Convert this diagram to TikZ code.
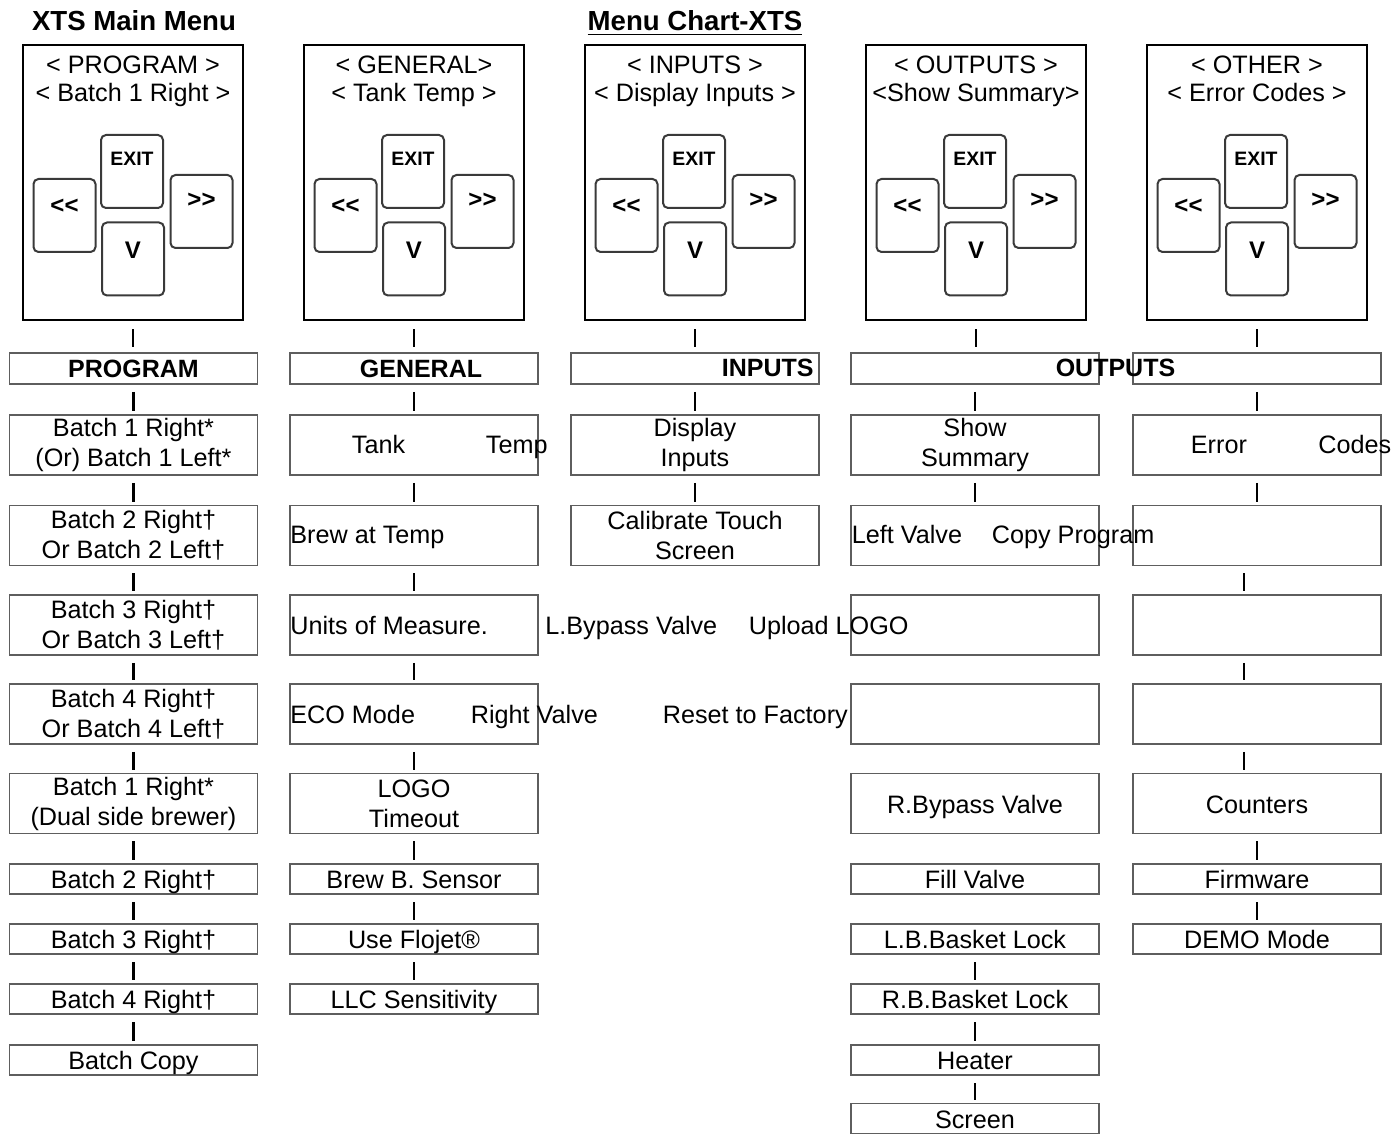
\documentclass[tikz,border=0pt]{standalone}
\usepackage{fontspec}
\setmainfont{Liberation Sans}
\definecolor{boxgray}{HTML}{5E5E5E}
\definecolor{keygray}{HTML}{3A3A3A}

\begin{document}
\begin{tikzpicture}[
  x=0.5pt, y=-0.5pt,
  title/.style={anchor=base, inner sep=0pt, font=\fontsize{13.8}{16}\selectfont\bfseries},
  panel/.style={
    draw=black, line width=1.3pt, minimum width=110pt, minimum height=137.5pt,
    inner sep=0pt
  },
  paneltxt/.style={anchor=north, yshift=-6pt, inner sep=0pt, align=center,
    font=\fontsize{12.6}{14}\selectfont},
  keybox/.style={
    draw=keygray, line width=1pt, rounded corners=2.5pt, minimum width=31pt,
    inner sep=0pt, font=\fontsize{12}{14}\selectfont\bfseries
  },
  rowhead/.style={
    draw=boxgray, line width=0.9pt, minimum width=124pt, minimum height=15.5pt,
    inner sep=0pt, font=\fontsize{12.5}{15}\selectfont\bfseries
  },
  rowtall/.style={
    draw=boxgray, line width=0.9pt, minimum width=124pt, minimum height=30pt,
    inner sep=0pt, align=center, font=\fontsize{12.6}{15}\selectfont
  },
  rowshort/.style={rowtall, minimum height=15pt, text height=12.4pt, text depth=2.7pt},
  oneline/.style={text height=12.7pt, text depth=2.7pt},
  txt/.style={anchor=base west, inner sep=0pt, font=\fontsize{12.6}{15}\selectfont},
  headtxt/.style={inner sep=0pt, font=\fontsize{12.5}{15}\selectfont\bfseries},
  link/.style={line width=1.4pt, shorten <=3.5pt, shorten >=1.5pt},
  toplink/.style={line width=1.4pt, shorten <=4pt, shorten >=2.5pt},
]

\useasboundingbox (0,0) rectangle (1393,1134);

% Titles
\node[title] (main-title) at (134,31) {XTS Main Menu};
\node[title] (chart-title) at (695,31) {\underline{Menu Chart-XTS}};

% =============================================
% Display panels with keys
% =============================================
\foreach \n/\cx/\ta/\tb in {
    pprog/133/{< PROGRAM >}/{< Batch 1 Right >},
    pgen/414/{< GENERAL>}/{< Tank Temp >},
    pinp/695/{< INPUTS >}/{< Display Inputs >},
    pout/976/{< OUTPUTS >}/{<Show Summary>},
    poth/1257/{< OTHER >}/{< Error Codes >}} {
  \node[panel] (\n) at (\cx,182.5) {};
  \node[paneltxt] (\n-txt) at (\n.north) {\ta\\\tb};
  \node[keybox, text height=15.5pt, text depth=21pt,
        font=\fontsize{9.7}{12}\selectfont\bfseries] (\n-exit) at (\cx-1,171.5) {EXIT};
  \node[keybox, text height=17.5pt, text depth=19pt] (\n-left) at (\cx-68.5,215.5) {<\kern0pt<};
  \node[keybox, text height=16.5pt, text depth=20pt] (\n-right) at (\cx+68.5,211.5) {>\kern0pt>};
  \node[keybox, text height=17.8pt, text depth=18.7pt] (\n-down) at (\cx,259) {V};
}

% =============================================
% PROGRAM column
% =============================================
\node[rowhead] (prog-head) at (133.5,368.5) {PROGRAM};
\node[rowtall] (prog1) at (133.5,445) {Batch 1 Right*\\(Or) Batch 1 Left*};
\node[rowtall] (prog2) at (133.5,535.5) {Batch 2 Right†\\Or Batch 2 Left†};
\node[rowtall] (prog3) at (133.5,625) {Batch 3 Right†\\Or Batch 3 Left†};
\node[rowtall] (prog4) at (133.5,714) {Batch 4 Right†\\Or Batch 4 Left†};
\node[rowtall] (prog5) at (133.5,803.5) {Batch 1 Right*\\(Dual side brewer)};
\node[rowshort] (prog6) at (133.5,879) {Batch 2 Right†};
\node[rowshort] (prog7) at (133.5,939) {Batch 3 Right†};
\node[rowshort] (prog8) at (133.5,999) {Batch 4 Right†};
\node[rowshort] (prog9) at (133.5,1060) {Batch Copy};

% =============================================
% GENERAL column
% =============================================
\node[rowhead] (gen-head) at (414,368.5) {\hspace*{7pt}GENERAL};
\node[rowtall] (gen1) at (414,445) {};
\node[rowtall] (gen2) at (414,535.5) {};
\node[rowtall] (gen3) at (414,625) {};
\node[rowtall] (gen4) at (414,714) {};
\node[rowtall] (gen5) at (414,803.5) {LOGO\\Timeout};
\node[rowshort] (gen6) at (414,879) {Brew B. Sensor};
\node[rowshort] (gen7) at (414,939) {Use Flojet®};
\node[rowshort] (gen8) at (414,999) {LLC Sensitivity};

% =============================================
% INPUTS column
% =============================================
\node[rowhead] (inp-head) at (695,368.5) {};
\node[rowtall] (inp1) at (695,445) {Display\\Inputs};
\node[rowtall] (inp2) at (695,535.5) {Calibrate Touch\\Screen};

% =============================================
% OUTPUTS column
% =============================================
\node[rowhead] (out-head) at (975,368.5) {};
\node[rowtall] (out1) at (975,445) {Show\\Summary};
\node[rowtall] (out2) at (975,535.5) {};
\node[rowtall] (out3) at (975,625) {};
\node[rowtall] (out4) at (975,714) {};
\node[rowtall, oneline] (out5) at (975,803.5) {R.Bypass Valve};
\node[rowshort] (out6) at (975,879) {Fill Valve};
\node[rowshort] (out7) at (975,939) {L.B.Basket Lock};
\node[rowshort] (out8) at (975,999) {R.B.Basket Lock};
\node[rowshort] (out9) at (975,1060) {Heater};
\node[rowshort] (out10) at (975,1118.5) {Screen};

% =============================================
% OTHER column
% =============================================
\node[rowhead] (oth-head) at (1257,368.5) {};
\node[rowtall] (oth1) at (1257,445) {};
\node[rowtall] (oth2) at (1257,535.5) {};
\node[rowtall] (oth3) at (1257,625) {};
\node[rowtall] (oth4) at (1257,714) {};
\node[rowtall, oneline] (oth5) at (1257,803.5) {Counters};
\node[rowshort] (oth6) at (1257,879) {Firmware};
\node[rowshort] (oth7) at (1257,939) {DEMO Mode};

% =============================================
% Loose texts (run across box edges)
% =============================================
\node[headtxt, anchor=base east] (inputs-t) at (814,377) {INPUTS};
\node[headtxt, anchor=base] (outputs-t) at (1115.5,377) {OUTPUTS};
\node[txt] (tank-t) at (351.5,453.5) {Tank};
\node[txt] (temp-t) at (485.5,453.5) {Temp};
\node[txt] (brew-t) at (290,543.5) {Brew at Temp};
\node[txt] (units-t) at (290,634) {Units of Measure.};
\node[txt] (lbypass-t) at (545,634) {L.Bypass Valve};
\node[txt] (logo-t) at (748.5,634) {Upload LOGO};
\node[txt] (eco-t) at (290,723) {ECO Mode};
\node[txt] (rvalve-t) at (470.5,723) {Right Valve};
\node[txt] (reset-t) at (662.5,723) {Reset to Factory};
\node[txt] (lvalve-t) at (851.5,543) {Left Valve};
\node[txt] (copy-t) at (991.5,543) {Copy Program};
\node[txt] (error-t) at (1190.5,453.5) {Error};
\node[txt] (codes-t) at (1318,453.5) {Codes};

% =============================================
% Connectors
% =============================================
\draw[toplink] (pprog.south) -- (pprog.south |- prog-head.north);
\draw[toplink] (pgen.south) -- (pgen.south |- gen-head.north);
\draw[toplink] (pinp.south) -- (pinp.south |- inp-head.north);
\draw[toplink] (pout.south) -- (pout.south |- out-head.north);
\draw[toplink] (poth.south) -- (poth.south |- oth-head.north);

\foreach \a/\b in {prog-head/prog1, prog1/prog2, prog2/prog3, prog3/prog4,
    prog4/prog5, prog5/prog6, prog6/prog7, prog7/prog8, prog8/prog9,
    gen-head/gen1, gen1/gen2, gen2/gen3, gen3/gen4, gen4/gen5, gen5/gen6,
    gen6/gen7, gen7/gen8,
    inp-head/inp1, inp1/inp2,
    out-head/out1, out1/out2, out7/out8, out8/out9, out9/out10,
    oth-head/oth1, oth1/oth2, oth5/oth6, oth6/oth7}
  \draw[link] (\a.south) -- (\b.north);

% OTHER: the middle links sit left of centre
\foreach \a/\b in {oth2/oth3, oth3/oth4, oth4/oth5}
  \draw[link] ([xshift=-6.5pt]\a.south) -- ([xshift=-6.5pt]\b.north);

\end{tikzpicture}
\end{document}
